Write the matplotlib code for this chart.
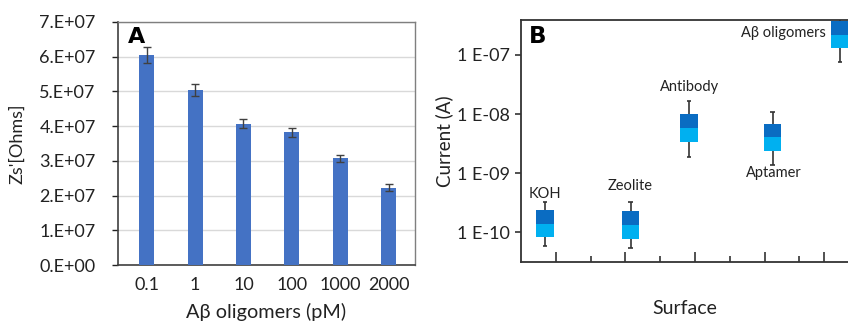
import matplotlib
matplotlib.use("Agg")
import matplotlib.pyplot as plt
from matplotlib.ticker import FixedLocator, FuncFormatter, NullLocator
import numpy as np

plt.rcParams['font.family'] = ['Lato', 'Open Sans', 'DejaVu Sans']

# ---- Panel A data ----
conc_labels = ["0.1", "1", "10", "100", "1000", "2000"]
zs_values = [6.05e7, 5.03e7, 4.07e7, 3.83e7, 3.08e7, 2.23e7]
zs_errors = [0.22e7, 0.17e7, 0.13e7, 0.13e7, 0.10e7, 0.09e7]

# ---- Panel B data ----
surfaces = ["KOH", "Zeolite", "Antibody", "Aptamer", "Aβ oligomers"]
q1 = [8.2e-11, 7.6e-11, 3.35e-9, 2.33e-9, 1.31e-7]
median = [1.37e-10, 1.30e-10, 5.86e-9, 4.07e-9, 2.21e-7]
q3 = [2.36e-10, 2.25e-10, 1.0e-8, 6.86e-9, 3.7e-7]
whisk_lo = [5.8e-11, 5.3e-11, 1.89e-9, 1.37e-9, 7.7e-8]
whisk_hi = [3.2e-10, 3.27e-10, 1.66e-8, 1.09e-8, 4.6e-7]
y_tick_vals = [1e-10, 1e-9, 1e-8, 1e-7]

fig = plt.figure(figsize=(8.48, 3.27), dpi=100)
txt = "#222222"

# ================= Panel A =================
axA = fig.add_axes([118/848, (327-265)/327, (415-118)/848, (265-22)/327])
xa = np.arange(len(conc_labels))
axA.bar(xa, zs_values, width=0.31, color="#4472C4", zorder=3)
axA.errorbar(xa, zs_values, yerr=zs_errors, fmt="none", ecolor="#404040",
             elinewidth=1.0, capsize=3, capthick=1.0, zorder=4)
axA.set_xlim(-0.59, 5.54)
axA.set_ylim(0, 7e7)
axA.set_yticks(np.arange(0, 7.01e7, 1e7))
axA.yaxis.set_major_formatter(FuncFormatter(lambda v, p: "0.E+00" if v == 0 else f"{v/1e7:.0f}.E+07"))
axA.set_xticks(xa)
axA.set_xticklabels(conc_labels)
axA.tick_params(axis="x", length=0, pad=9, labelsize=13, colors=txt)
axA.tick_params(axis="y", length=4, width=1, pad=12, labelsize=13, colors=txt)
axA.grid(axis="y", color="#d9d9d9", linewidth=1.0, zorder=0)
for s in ["left", "bottom"]:
    axA.spines[s].set_color("#404040")
    axA.spines[s].set_linewidth(1.2)
for s in ["top", "right"]:
    axA.spines[s].set_color("#7f7f7f")
    axA.spines[s].set_linewidth(1.0)
axA.set_xlabel("Aβ oligomers (pM)", fontsize=14.3, color=txt, labelpad=7)
axA.set_ylabel("Zs'[Ohms]", fontsize=13, color=txt, labelpad=10)
axA.text(128/848, (327-43)/327, "A", transform=fig.transFigure, fontsize=16, fontweight="bold",
         family=["DejaVu Sans"], va="baseline", ha="left")

# ================= Panel B =================
axB = fig.add_axes([521/848, (327-262)/327, (848-521)/848, (262-20)/327])
xb = [0.69, 3.16, 4.83, 7.24, 9.17]
bw = 0.49
lo_h = [m - a for m, a in zip(median, q1)]
hi_h = [b - m for b, m in zip(q3, median)]
axB.vlines(xb, whisk_lo, whisk_hi, color="#333333", linewidth=1.2, zorder=1)
axB.hlines(whisk_lo, [x - 0.07 for x in xb], [x + 0.07 for x in xb], color="#333333", linewidth=1.2, zorder=1)
axB.hlines(whisk_hi, [x - 0.07 for x in xb], [x + 0.07 for x in xb], color="#333333", linewidth=1.2, zorder=1)
axB.bar(xb, lo_h, bottom=q1, width=bw, color="#00B0F0", zorder=2)
axB.bar(xb, hi_h, bottom=median, width=bw, color="#0A6CC2", zorder=2)
axB.set_yscale("log")
axB.set_ylim(10**-10.508, 10**-6.407)
axB.set_xlim(0, 9.4)
axB.yaxis.set_major_locator(FixedLocator(y_tick_vals))
axB.yaxis.set_minor_locator(NullLocator())
axB.yaxis.set_major_formatter(FuncFormatter(lambda v, p: "1 E-%02d" % round(-np.log10(v))))
axB.set_xticks([1, 3, 5, 7, 8.7])
axB.set_xticks([2, 4, 6, 8], minor=True)
axB.set_xticklabels([])
axB.tick_params(axis="x", which="major", direction="in", length=7, width=1.2, color="#333333")
axB.tick_params(axis="x", which="minor", direction="in", length=4, width=1.2, color="#333333")
axB.tick_params(axis="y", which="major", direction="out", length=4, width=1.2, color="#333333",
                labelsize=13, pad=4, labelcolor=txt)
axB.spines["right"].set_visible(False)
for s in ["left", "bottom", "top"]:
    axB.spines[s].set_color("#333333")
    axB.spines[s].set_linewidth(1.3)
axB.set_xlabel("Surface", fontsize=14, color=txt, labelpad=24)
axB.set_ylabel("Current (A)", fontsize=13.5, color=txt, labelpad=3)

label_pos = [(0.69, 4.4e-10, "center"), (3.13, 6.0e-10, "center"), (4.83, 2.87e-8, "center"),
             (7.27, 1.0e-9, "center"), (8.76, 2.36e-7, "right")]
for name, (lx, ly, ha) in zip(surfaces, label_pos):
    axB.text(lx, ly, name, fontsize=10.5, ha=ha, va="center", color=txt)
axB.text(529/848, (327-43)/327, "B", transform=fig.transFigure, fontsize=16.5, fontweight="bold",
         family=["DejaVu Sans"], va="baseline", ha="left")

fig.savefig("out.png", dpi=100)
